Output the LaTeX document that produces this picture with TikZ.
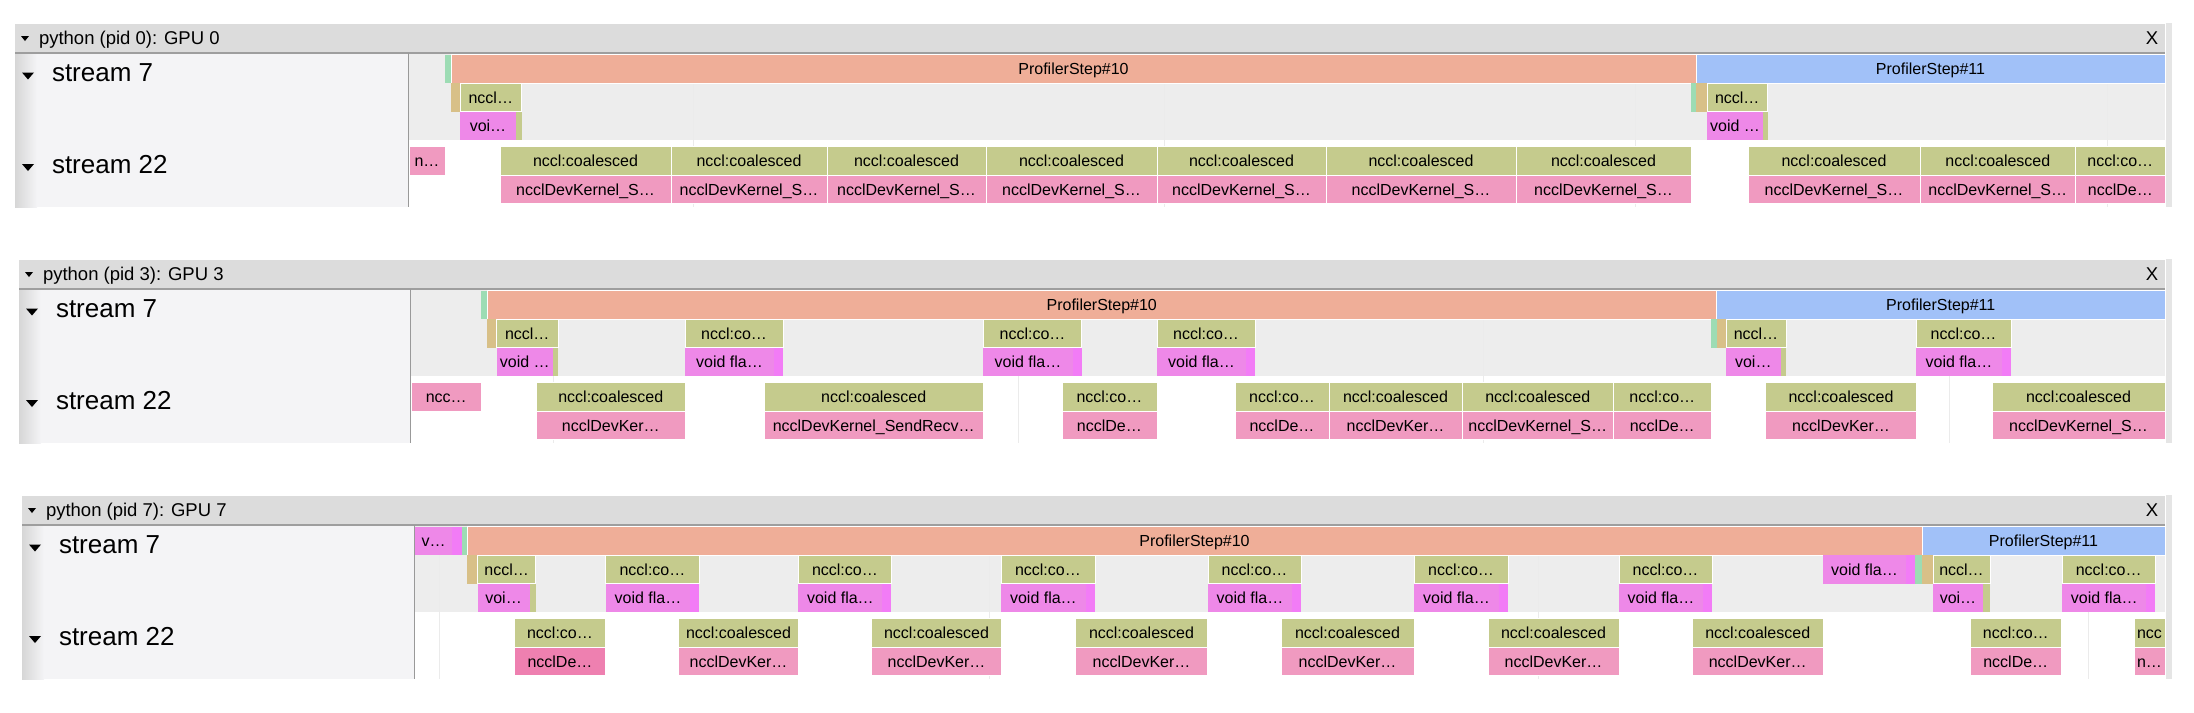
\documentclass[tikz,border=0pt]{standalone}
\usepackage{fontspec}
\setmainfont{Liberation Sans}

\definecolor{salmon}{HTML}{EFAE98}
\definecolor{stepblue}{HTML}{A1C1F8}
\definecolor{mint}{HTML}{9DDCB4}
\definecolor{evtan}{HTML}{D8C088}
\definecolor{nccl}{HTML}{C5CB8D}
\definecolor{voidc}{HTML}{EE88E8}
\definecolor{vstripc}{HTML}{F27CF6}
\definecolor{kern}{HTML}{F09AC0}
\definecolor{kerndark}{HTML}{EE80B0}
\definecolor{hdr}{HTML}{DCDCDC}
\definecolor{rowbg}{HTML}{EDEDED}
\definecolor{leftbg}{HTML}{F4F4F6}

\newcommand{\ncA}{nccl:coalesced}
\newcommand{\ncB}{nccl:co…}
\newcommand{\kS}{ncclDevKernel\_S…}
\newcommand{\kR}{ncclDevKernel\_SendRecv…}
\newcommand{\kK}{ncclDevKer…}
\newcommand{\kD}{ncclDe…}
% style, name, left, right, row centre, text
\newcommand{\evbox}[6]{\node[#1, minimum width={((#4)-(#3))*1pt}] (#2) at ({((#3)+(#4))/2},#5) {#6};}

\begin{document}
\begin{tikzpicture}[x=1pt,y=-1pt,
  every node/.style={inner sep=0pt,outer sep=0pt},
  slice/.style={draw=white,line width=0.5pt,minimum height=28.5pt,text height=11.5pt,text depth=0pt,font=\fontsize{16}{18}\selectfont},
  stepA/.style={slice,fill=salmon},
  stepB/.style={slice,fill=stepblue},
  mintev/.style={slice,fill=mint,draw=none},
  tanev/.style={slice,fill=evtan,draw=none},
  ncclev/.style={slice,fill=nccl},
  voidev/.style={slice,fill=voidc,draw=none},
  vstrip/.style={slice,fill=vstripc,draw=none},
  gstrip/.style={slice,fill=nccl,draw=none},
  kernev/.style={slice,fill=kern},
  gridline/.style={black!8,line width=0.8pt},
  hdrtext/.style={font=\fontsize{18.5}{20}\selectfont,anchor=base west},
  streamtext/.style={font=\fontsize{26}{28}\selectfont,anchor=base west}]
\useasboundingbox (0,0) rectangle (2194,712);

% panel frames
\foreach \p/\off/\lx/\bx/\gz/\gs in {0/0/15/408/693/471.3,3/236/19/410/553/465.3,7/472/22/414/439/549.9}{
\begin{scope}[shift={(0,\off)}]
  \shade[left color=black!16,right color=leftbg] (\lx,53) rectangle ({\lx+22},207);
  \fill[leftbg] ({\lx+22},53) rectangle (\bx,207);
  \fill[rowbg] (\bx,53) rectangle (2165,140);
  \foreach \k in {0,...,3} \draw[gridline] ({\gz+\k*\gs},53) -- ({\gz+\k*\gs},207);
  \fill[hdr] (\lx,24) rectangle (2165,53);
  \draw[black!38,line width=1.5pt] (\lx,53) -- (2165,53);
  \draw[black!40] (\bx,53) -- (\bx,207);
  \fill[black!10] (2166,23) rectangle (2172,207);
  \fill ({\lx+6},36) -- ({\lx+14},36) -- ({\lx+10},41) -- cycle;
  \fill ({\lx+7},72.5) -- ({\lx+19},72.5) -- ({\lx+13},79.5) -- cycle;
  \fill ({\lx+7},164) -- ({\lx+19},164) -- ({\lx+13},171) -- cycle;
  \node[hdrtext] (hdr\p) at ({\lx+24},44) {python (pid \p): GPU \p};
  \node[font=\fontsize{18.5}{20}\selectfont] (close\p) at (2152,38.5) {X};
  \node[streamtext] (sa\p) at ({\lx+37},81.5) {stream 7};
  \node[streamtext] (sb\p) at ({\lx+37},173.3) {stream 22};
\end{scope}}

% GPU 0
\evbox{mintev}{a-m0}{445}{451}{68.75}{}
\evbox{stepA}{a-s10}{451}{1696}{68.75}{ProfilerStep\#10}
\evbox{stepB}{a-s11}{1696}{2165}{68.75}{ProfilerStep\#11}
\evbox{tanev}{a-t1}{451}{460}{97.25}{}
\evbox{ncclev}{a-n1}{460}{521.6}{97.25}{nccl…}
\evbox{voidev}{a-v1}{460}{516}{125.75}{voi…}
\evbox{gstrip}{a-g1}{516}{521.6}{125.75}{}
\evbox{mintev}{a-m2}{1691}{1696}{97.25}{}
\evbox{tanev}{a-t2}{1696}{1707}{97.25}{}
\evbox{ncclev}{a-n2}{1707}{1767.5}{97.25}{nccl…}
\evbox{voidev}{a-v2}{1707}{1763}{125.75}{void …}
\evbox{gstrip}{a-g2}{1763}{1767.5}{125.75}{}
\evbox{kernev}{a-k0}{409}{445}{160.75}{n…}
\foreach \a/\b/\u/\v [count=\i] in {500/671/\ncA/\kS,671/827/\ncA/\kS,827/986/\ncA/\kS,986/1157/\ncA/\kS,1157/1326/\ncA/\kS,1326/1516/\ncA/\kS,1516/1691/\ncA/\kS,1748/1920/\ncA/\kS,1920/2075.6/\ncA/\kS,2075.6/2165/\ncB/\kD}{
  \evbox{ncclev}{a-c\i}{\a}{\b}{160.75}{\u}
  \evbox{kernev}{a-k\i}{\a}{\b}{189.25}{\v}}

% GPU 3
\begin{scope}[shift={(0,236)}]
\evbox{mintev}{b-m0}{481}{487}{68.75}{}
\evbox{stepA}{b-s10}{487}{1716.5}{68.75}{ProfilerStep\#10}
\evbox{stepB}{b-s11}{1716.5}{2165}{68.75}{ProfilerStep\#11}
\evbox{tanev}{b-t1}{487}{496.5}{97.25}{}
\evbox{ncclev}{b-n1}{496.5}{558}{97.25}{nccl…}
\evbox{voidev}{b-v1}{496.5}{553}{125.75}{void …}
\evbox{gstrip}{b-g1}{553}{558}{125.75}{}
\evbox{mintev}{b-m2}{1711}{1716.5}{97.25}{}
\evbox{tanev}{b-t2}{1716.5}{1726}{97.25}{}
\evbox{ncclev}{b-n2}{1726}{1786}{97.25}{nccl…}
\evbox{voidev}{b-v2}{1726}{1780.6}{125.75}{voi…}
\evbox{gstrip}{b-g2}{1780.6}{1786}{125.75}{}
\foreach \a/\b [count=\i] in {685/783,983.4/1081.6,1157/1255,1916/2011}{
  \evbox{ncclev}{b-o\i}{\a}{\b}{97.25}{\ncB}
  \evbox{voidev}{b-f\i}{\a}{\b-9}{125.75}{void fla…}
  \evbox{vstrip}{b-w\i}{\b-9}{\b}{125.75}{}}
\evbox{kernev}{b-k0}{411.5}{481}{160.75}{ncc…}
\foreach \a/\b/\u/\v [count=\i] in {536.6/685/\ncA/\kK,764/983.4/\ncA/\kR,1061.8/1157/\ncB/\kD,1235/1329/\ncB/\kD,1329/1462/\ncA/\kK,1462/1613.5/\ncA/\kS,1613.5/1711/\ncB/\kD,1765.7/1916.4/\ncA/\kK,1992/2165/\ncA/\kS}{
  \evbox{ncclev}{b-c\i}{\a}{\b}{160.75}{\u}
  \evbox{kernev}{b-k\i}{\a}{\b}{189.25}{\v}}
\end{scope}

% GPU 7
\begin{scope}[shift={(0,472)}]
\evbox{voidev}{c-v0}{415}{452}{68.75}{v…}
\evbox{vstrip}{c-w0}{452}{461.5}{68.75}{}
\evbox{mintev}{c-m0}{461.5}{467}{68.75}{}
\evbox{stepA}{c-s10}{467}{1922}{68.75}{ProfilerStep\#10}
\evbox{stepB}{c-s11}{1922}{2165}{68.75}{ProfilerStep\#11}
\evbox{tanev}{c-t1}{467}{477.6}{97.25}{}
\evbox{ncclev}{c-n1}{477.6}{535.6}{97.25}{nccl…}
\evbox{voidev}{c-v1}{477.6}{529.5}{125.75}{voi…}
\evbox{gstrip}{c-g1}{529.5}{535.6}{125.75}{}
\evbox{voidev}{c-v2}{1823}{1906}{97.25}{void fla…}
\evbox{vstrip}{c-w2}{1906}{1915}{97.25}{}
\evbox{mintev}{c-m2}{1915}{1922}{97.25}{}
\evbox{tanev}{c-t2}{1922}{1933}{97.25}{}
\evbox{ncclev}{c-n2}{1933}{1990}{97.25}{nccl…}
\evbox{voidev}{c-v3}{1933}{1983}{125.75}{voi…}
\evbox{gstrip}{c-g3}{1983}{1990}{125.75}{}
\foreach \a/\b [count=\i] in {605.5/699.4,798.4/891.4,1001/1094.8,1208/1301,1414/1508,1619/1712,2062.4/2155}{
  \evbox{ncclev}{c-o\i}{\a}{\b}{97.25}{\ncB}
  \evbox{voidev}{c-f\i}{\a}{\b-9}{125.75}{void fla…}
  \evbox{vstrip}{c-w\i}{\b-9}{\b}{125.75}{}}
\evbox{ncclev}{c-c0}{514.4}{605.5}{160.75}{\ncB}
\evbox{kernev,fill=kerndark}{c-k0}{514.4}{605.5}{189.25}{\kD}
\foreach \a/\b/\u/\v [count=\i] in {678.6/798.4/\ncA/\kK,871.6/1001.4/\ncA/\kK,1075.4/1207.6/\ncA/\kK,1281/1414/\ncA/\kK,1488/1619/\ncA/\kK,1692.6/1822.8/\ncA/\kK,1970/2061.5/\ncB/\kD,2134/2165/ncc/n…}{
  \evbox{ncclev}{c-c\i}{\a}{\b}{160.75}{\u}
  \evbox{kernev}{c-k\i}{\a}{\b}{189.25}{\v}}
\end{scope}
\end{tikzpicture}
\end{document}
